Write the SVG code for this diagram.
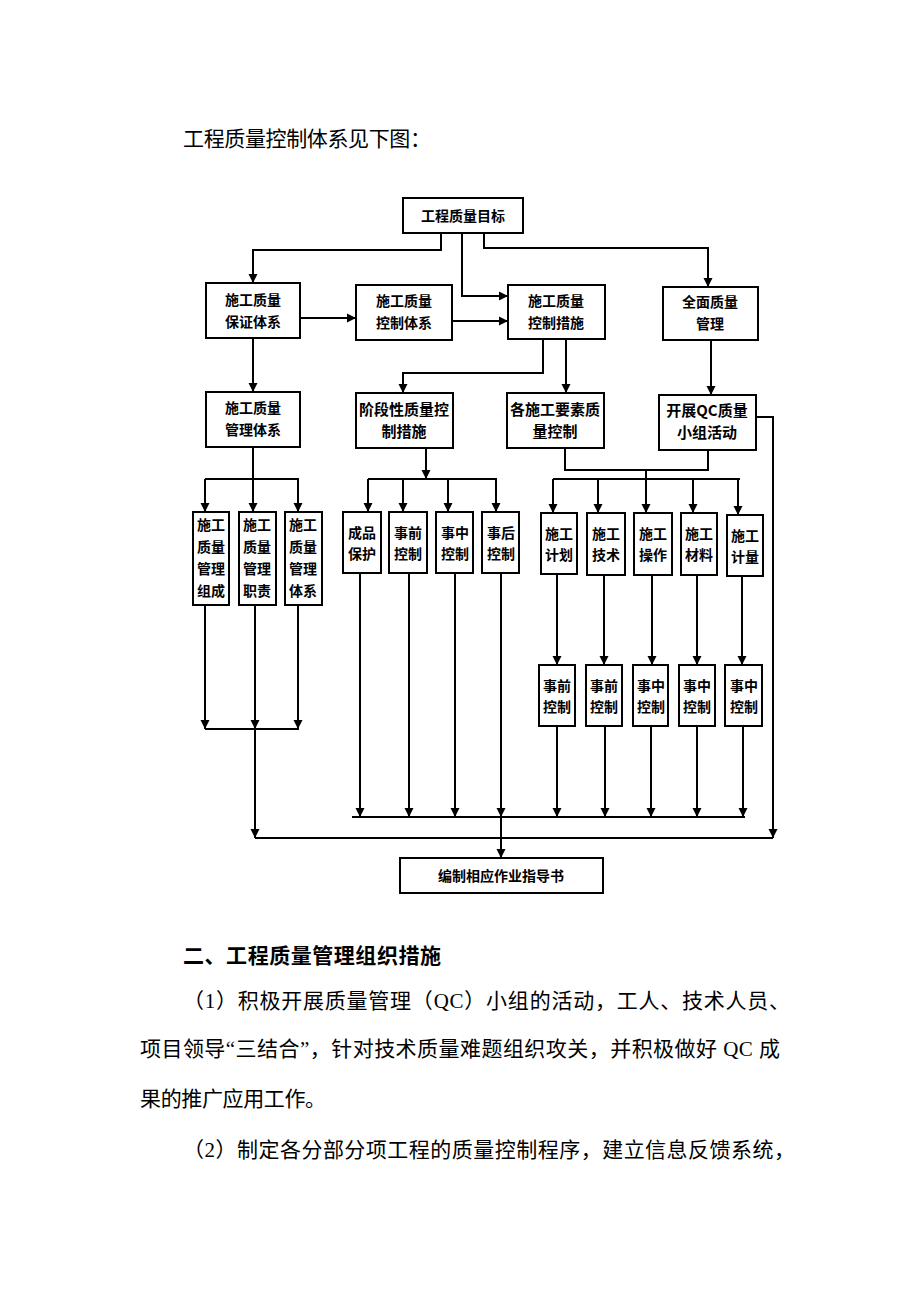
<svg xmlns="http://www.w3.org/2000/svg" width="920" height="1302" viewBox="0 0 920 1302">
<style>
.bg{fill:#fff}
.box{fill:#fff;stroke:#000;stroke-width:2}
.t{font-family:"Noto Sans CJK SC","Noto Sans",sans-serif;font-weight:bold;font-size:14px;fill:#000;text-anchor:middle;dominant-baseline:central}
.t15{font-size:15px}
.c path{fill:none;stroke:#000;stroke-width:2}
.c .a{marker-end:url(#arr)}
.p{font-family:"Liberation Serif","Noto Sans CJK SC",serif;font-size:21px;fill:#000}
.h{font-weight:bold}
</style>
<defs>
<marker id="arr" markerUnits="userSpaceOnUse" markerWidth="10" markerHeight="10" refX="9" refY="5" orient="auto">
<path d="M0,0.5 L9,5 L0,9.5 Z" fill="#000"/>
</marker>
</defs>
<rect class="bg" x="0" y="0" width="920" height="1302"/>

<text class="p" x="183" y="146" textLength="248" lengthAdjust="spacing">工程质量控制体系见下图：</text>

<g class="c" id="connectors">
<path class="a" d="M441,233 V250 H253 V283"/>
<path class="a" d="M462,233 V296 H508"/>
<path class="a" d="M484,233 V248 H708 V287"/>
<path class="a" d="M300,318 H356"/>
<path class="a" d="M452,321 H508"/>
<path class="a" d="M253,338 V392"/>
<path class="a" d="M543,339 V373 H403 V393"/>
<path class="a" d="M566,339 V393"/>
<path class="a" d="M711,340 V395"/>
<path class="a" d="M756,417 H773 V838"/>
<path d="M253,447 V479 M205,479 H299"/>
<path class="a" d="M205,479 V512"/>
<path class="a" d="M253,479 V512"/>
<path class="a" d="M298,479 V512"/>
<path class="a" d="M426,448 V479"/>
<path d="M368,479 H497"/>
<path class="a" d="M368,479 V512"/>
<path class="a" d="M403,479 V512"/>
<path class="a" d="M448,479 V512"/>
<path class="a" d="M496,479 V512"/>
<path d="M565,448 V470 H708 V450 M646,470 V479 M553,479 H740"/>
<path class="a" d="M553,479 V513"/>
<path class="a" d="M598,479 V513"/>
<path class="a" d="M646,479 V513"/>
<path class="a" d="M693,479 V513"/>
<path class="a" d="M738,479 V515"/>
<path class="a" d="M557,574 V665"/>
<path class="a" d="M604,575 V665"/>
<path class="a" d="M652,575 V665"/>
<path class="a" d="M697,575 V665"/>
<path class="a" d="M742,576 V665"/>
<path class="a" d="M205,605 V729"/>
<path class="a" d="M255,605 V729"/>
<path class="a" d="M298,605 V729"/>
<path d="M205,729 H299"/>
<path class="a" d="M255,729 V838"/>
<path d="M255,838 H773"/>
<path class="a" d="M360,573 V817"/>
<path class="a" d="M409,573 V817"/>
<path class="a" d="M455,573 V817"/>
<path class="a" d="M501,573 V817"/>
<path class="a" d="M557,726 V817"/>
<path class="a" d="M605,726 V817"/>
<path class="a" d="M651,726 V817"/>
<path class="a" d="M697,726 V817"/>
<path class="a" d="M743,726 V817"/>
<path d="M352,817 H745"/>
<path class="a" d="M501,817 V858"/>
</g>

<g id="n0"><rect class="box" x="403" y="198" width="120" height="35"/><text class="t" x="463" y="215">工程质量目标</text></g>
<g id="n1"><rect class="box" x="206" y="283" width="94" height="55"/><text class="t" x="253" y="299">施工质量</text><text class="t" x="253" y="321">保证体系</text></g>
<g id="n2"><rect class="box" x="356" y="285" width="96" height="55"/><text class="t" x="404" y="300">施工质量</text><text class="t" x="404" y="322">控制体系</text></g>
<g id="n3"><rect class="box" x="508" y="285" width="97" height="54"/><text class="t" x="556" y="300">施工质量</text><text class="t" x="556" y="322">控制措施</text></g>
<g id="n4"><rect class="box" x="663" y="287" width="95" height="53"/><text class="t" x="710" y="301">全面质量</text><text class="t" x="710" y="323">管理</text></g>
<g id="n5"><rect class="box" x="206" y="392" width="94" height="55"/><text class="t" x="253" y="407">施工质量</text><text class="t" x="253" y="429">管理体系</text></g>
<g id="n6"><rect class="box" x="356" y="393" width="97" height="55"/><text class="t t15" x="404" y="408">阶段性质量控</text><text class="t t15" x="404" y="430">制措施</text></g>
<g id="n7"><rect class="box" x="507" y="393" width="97" height="55"/><text class="t t15" x="555" y="408">各施工要素质</text><text class="t t15" x="555" y="430">量控制</text></g>
<g id="n8"><rect class="box" x="659" y="395" width="97" height="55"/><text class="t t15" x="707" y="409">开展QC质量</text><text class="t t15" x="707" y="431">小组活动</text></g>

<g id="n9"><rect class="box" x="193" y="512" width="36" height="93"/><text class="t" x="211" y="524">施工</text><text class="t" x="211" y="546">质量</text><text class="t" x="211" y="568">管理</text><text class="t" x="211" y="590">组成</text></g>
<g id="n10"><rect class="box" x="239" y="512" width="37" height="93"/><text class="t" x="257" y="524">施工</text><text class="t" x="257" y="546">质量</text><text class="t" x="257" y="568">管理</text><text class="t" x="257" y="590">职责</text></g>
<g id="n11"><rect class="box" x="285" y="512" width="37" height="93"/><text class="t" x="303" y="524">施工</text><text class="t" x="303" y="546">质量</text><text class="t" x="303" y="568">管理</text><text class="t" x="303" y="590">体系</text></g>
<g id="n12"><rect class="box" x="343" y="512" width="38" height="61"/><text class="t" x="362" y="532">成品</text><text class="t" x="362" y="553">保护</text></g>
<g id="n13"><rect class="box" x="389" y="512" width="38" height="61"/><text class="t" x="408" y="532">事前</text><text class="t" x="408" y="553">控制</text></g>
<g id="n14"><rect class="box" x="436" y="512" width="37" height="61"/><text class="t" x="455" y="532">事中</text><text class="t" x="455" y="553">控制</text></g>
<g id="n15"><rect class="box" x="482" y="512" width="37" height="61"/><text class="t" x="501" y="532">事后</text><text class="t" x="501" y="553">控制</text></g>
<g id="n16"><rect class="box" x="541" y="513" width="36" height="61"/><text class="t" x="559" y="533">施工</text><text class="t" x="559" y="554">计划</text></g>
<g id="n17"><rect class="box" x="587" y="513" width="38" height="62"/><text class="t" x="606" y="533">施工</text><text class="t" x="606" y="554">技术</text></g>
<g id="n18"><rect class="box" x="634" y="513" width="38" height="62"/><text class="t" x="653" y="533">施工</text><text class="t" x="653" y="554">操作</text></g>
<g id="n19"><rect class="box" x="681" y="513" width="36" height="62"/><text class="t" x="699" y="533">施工</text><text class="t" x="699" y="554">材料</text></g>
<g id="n20"><rect class="box" x="727" y="515" width="36" height="61"/><text class="t" x="745" y="535">施工</text><text class="t" x="745" y="556">计量</text></g>

<g id="n21"><rect class="box" x="539" y="665" width="36" height="61"/><text class="t" x="557" y="685">事前</text><text class="t" x="557" y="706">控制</text></g>
<g id="n22"><rect class="box" x="586" y="665" width="36" height="61"/><text class="t" x="604" y="685">事前</text><text class="t" x="604" y="706">控制</text></g>
<g id="n23"><rect class="box" x="633" y="665" width="35" height="61"/><text class="t" x="651" y="685">事中</text><text class="t" x="651" y="706">控制</text></g>
<g id="n24"><rect class="box" x="679" y="665" width="36" height="61"/><text class="t" x="697" y="685">事中</text><text class="t" x="697" y="706">控制</text></g>
<g id="n25"><rect class="box" x="725" y="665" width="37" height="61"/><text class="t" x="744" y="685">事中</text><text class="t" x="744" y="706">控制</text></g>

<g id="n26"><rect class="box" x="400" y="858" width="203" height="35"/><text class="t" x="501" y="875">编制相应作业指导书</text></g>

<text class="p h" x="183" y="963" textLength="258" lengthAdjust="spacing">二、工程质量管理组织措施</text>
<text class="p" x="183" y="1008" textLength="607" lengthAdjust="spacing">（1）积极开展质量管理（QC）小组的活动，工人、技术人员、</text>
<text class="p" x="140" y="1056" textLength="640" lengthAdjust="spacing">项目领导“三结合”，针对技术质量难题组织攻关，并积极做好 QC 成</text>
<text class="p" x="140" y="1106" textLength="186" lengthAdjust="spacing">果的推广应用工作。</text>
<text class="p" x="183" y="1157" textLength="612" lengthAdjust="spacing">（2）制定各分部分项工程的质量控制程序，建立信息反馈系统，</text>
</svg>
